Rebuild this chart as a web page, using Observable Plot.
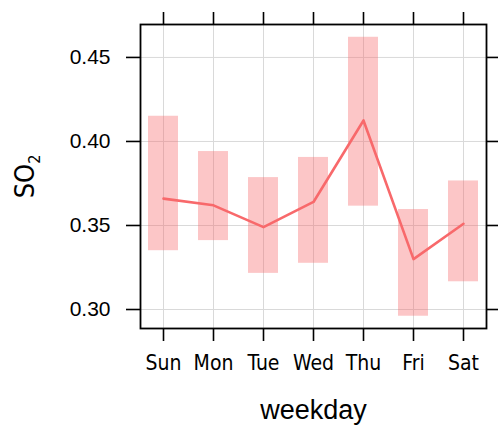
<!DOCTYPE html>
<html>
<head>
<meta charset="utf-8">
<script src="https://cdn.jsdelivr.net/npm/d3@7"></script>
<script src="https://cdn.jsdelivr.net/npm/@observablehq/plot@0.6"></script>
<style>
  html, body { margin: 0; padding: 0; background: #fff; }
  #chart { width: 498px; height: 427px; }
</style>
</head>
<body>
<div id="chart"></div>
<script>
const days = ["Sun", "Mon", "Tue", "Wed", "Thu", "Fri", "Sat"];
const meanValues = [0.366, 0.362, 0.349, 0.364, 0.4125, 0.330, 0.351];
const lowerValues = [0.335, 0.341, 0.3215, 0.3275, 0.3615, 0.296, 0.3165];
const upperValues = [0.415, 0.394, 0.3785, 0.3905, 0.462, 0.3595, 0.3765];
const yTicks = [0.30, 0.35, 0.40, 0.45];

const data = days.map((d, i) => ({day: d, mean: meanValues[i], lo: lowerValues[i], hi: upperValues[i]}));

const col = "#F8696B";
const font = "'Liberation Sans', Arial, sans-serif";
const narrow = "'Liberation Sans Narrow', 'DejaVu Sans Condensed', 'Liberation Sans', sans-serif";

const chart = Plot.plot({
  width: 498,
  height: 427,
  marginLeft: 140,
  marginRight: 12,
  marginTop: 24,
  marginBottom: 99,
  style: {fontFamily: font, background: "#fff", color: "#000"},
  x: {type: "band", domain: days, paddingInner: 0.4, paddingOuter: 0.14},
  y: {domain: [0.2887, 0.4696]},
  marks: [
    Plot.gridX(days, {stroke: "#d9d9d9", strokeOpacity: 1}),
    Plot.gridY(yTicks, {stroke: "#d9d9d9", strokeOpacity: 1}),
    Plot.barY(data, {x: "day", y1: "lo", y2: "hi", fill: col, fillOpacity: 0.38}),
    Plot.line(data, {x: "day", y: "mean", stroke: col, strokeWidth: 2.6}),
    Plot.axisY(yTicks, {anchor: "left", tickSize: 14, tickPadding: 16, fontSize: 21,
      tickFormat: d3.format(".2f"), strokeWidth: 1.6,
      label: "SO2", labelAnchor: "center", labelOffset: 126, labelArrow: "none"}),
    Plot.axisY(yTicks, {anchor: "right", tickSize: 14, tickFormat: () => "", label: null, strokeWidth: 1.6}),
    Plot.axisX(days, {anchor: "bottom", tickSize: 13, tickPadding: 14, fontSize: 21, strokeWidth: 1.6,
      fontFamily: narrow,
      label: "weekday", labelAnchor: "center", labelOffset: 90, labelArrow: "none"}),
    Plot.axisX(days, {anchor: "top", tickSize: 13, tickFormat: () => "", label: null, strokeWidth: 1.6}),
    Plot.frame({stroke: "#000", strokeWidth: 1.8})
  ]
});
chart.querySelectorAll("g[aria-label='y-axis label'] text").forEach(t => {
  t.setAttribute("font-size", "27");
  t.setAttribute("font-family", narrow);
  t.textContent = "SO";
  const ts = document.createElementNS("http://www.w3.org/2000/svg", "tspan");
  ts.setAttribute("font-size", "16");
  ts.setAttribute("dy", "6");
  ts.textContent = "2";
  t.appendChild(ts);
});
chart.querySelectorAll("g[aria-label='x-axis label'] text").forEach(t => { t.setAttribute("font-size", "27"); t.setAttribute("font-family", font); });
document.getElementById("chart").appendChild(chart);
</script>
</body>
</html>
